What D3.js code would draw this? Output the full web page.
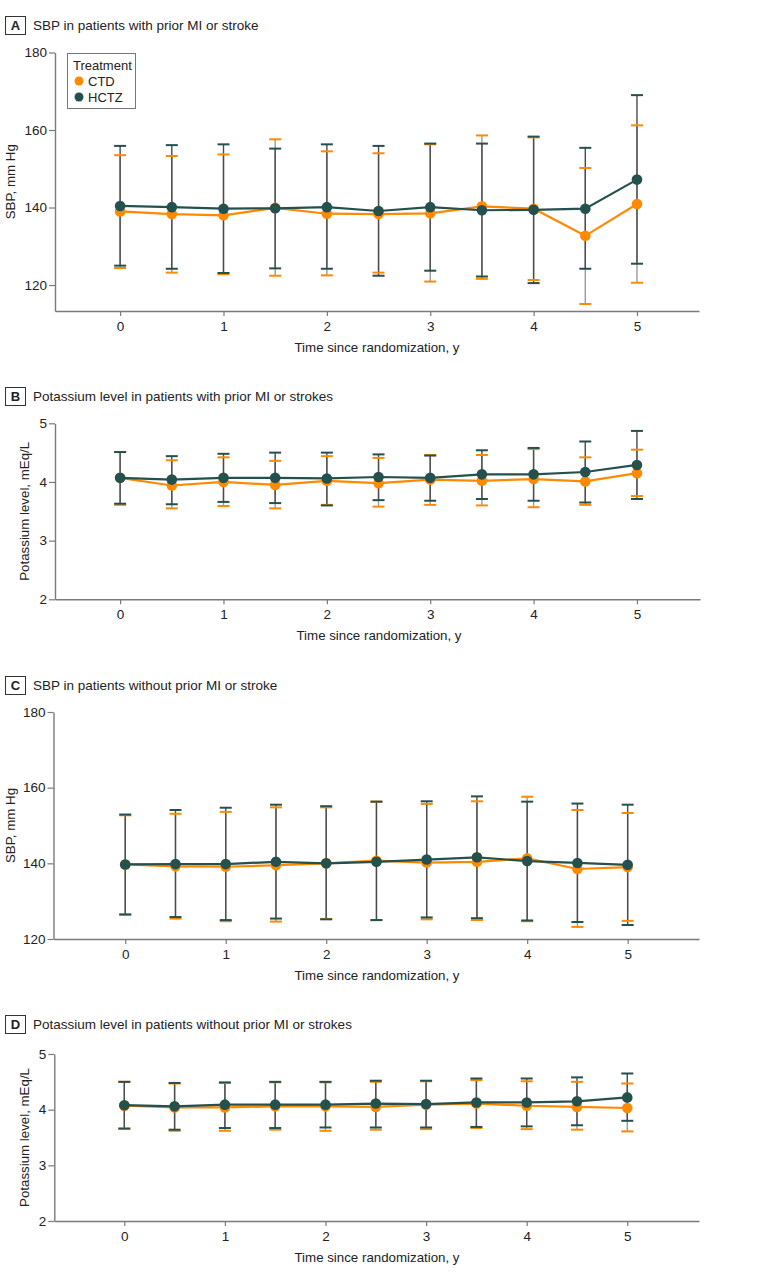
<!DOCTYPE html>
<html>
<head>
<meta charset="utf-8">
<script src="https://cdn.jsdelivr.net/npm/d3@7"></script>
<style>
  html, body { margin: 0; padding: 0; background: #fff; }
  svg text { font-family: "Liberation Sans", Arial, sans-serif; fill: #222; }
</style>
</head>
<body>
<svg id="chart" width="780" height="1281"></svg>
<script>
// ---------- data ----------
const timepoints = [0, 0.5, 1, 1.5, 2, 2.5, 3, 3.5, 4, 4.5, 5];
const xTicks = [0, 1, 2, 3, 4, 5];
const sbpTicks = [120, 140, 160, 180];
const kTicks = [2, 3, 4, 5];
const seriesNames = ["CTD", "HCTZ"];

// Panel A: SBP, prior MI or stroke
const A_ctd_mean  = [139.0, 138.3, 138.0, 139.9, 138.4, 138.3, 138.5, 140.3, 139.7, 132.7, 140.9];
const A_ctd_hi    = [153.5, 153.3, 153.7, 157.6, 154.5, 154.0, 156.3, 158.6, 158.1, 150.2, 161.2];
const A_ctd_lo    = [124.4, 123.2, 122.8, 122.4, 122.5, 123.2, 120.9, 121.6, 121.3, 115.1, 120.6];
const A_hctz_mean = [140.4, 140.1, 139.7, 139.8, 140.1, 139.1, 140.1, 139.3, 139.4, 139.7, 147.2];
const A_hctz_hi   = [155.9, 156.1, 156.3, 155.2, 156.3, 155.9, 156.5, 156.5, 158.3, 155.4, 169.0];
const A_hctz_lo   = [125.0, 124.2, 123.1, 124.3, 124.2, 122.4, 123.7, 122.2, 120.5, 124.2, 125.5];

// Panel B: potassium, prior MI or stroke
const B_ctd_mean  = [4.07, 3.94, 4.00, 3.95, 4.02, 3.98, 4.04, 4.02, 4.05, 4.01, 4.15];
const B_ctd_hi    = [4.51, 4.37, 4.42, 4.36, 4.44, 4.41, 4.46, 4.46, 4.56, 4.42, 4.55];
const B_ctd_lo    = [3.61, 3.55, 3.59, 3.55, 3.61, 3.58, 3.61, 3.60, 3.57, 3.61, 3.76];
const B_hctz_mean = [4.07, 4.04, 4.07, 4.07, 4.06, 4.085, 4.07, 4.13, 4.13, 4.17, 4.29];
const B_hctz_hi   = [4.51, 4.44, 4.48, 4.50, 4.50, 4.47, 4.45, 4.54, 4.58, 4.69, 4.87];
const B_hctz_lo   = [3.63, 3.62, 3.66, 3.64, 3.60, 3.69, 3.68, 3.71, 3.68, 3.65, 3.71];

// Panel C: SBP, without prior MI or stroke
const C_ctd_mean  = [139.7, 139.2, 139.1, 139.5, 140.0, 140.7, 140.2, 140.4, 141.3, 138.5, 139.0];
const C_ctd_hi    = [152.7, 153.1, 153.6, 154.8, 154.8, 156.3, 155.7, 156.4, 157.6, 154.1, 153.3];
const C_ctd_lo    = [126.4, 125.4, 124.7, 124.6, 125.3, 125.0, 125.2, 125.0, 124.7, 123.2, 124.8];
const C_hctz_mean = [139.7, 139.8, 139.8, 140.4, 140.0, 140.4, 141.0, 141.6, 140.6, 140.1, 139.6];
const C_hctz_hi   = [152.9, 154.1, 154.7, 155.5, 155.1, 156.3, 156.4, 157.7, 156.3, 155.8, 155.5];
const C_hctz_lo   = [126.5, 125.8, 125.0, 125.4, 125.2, 125.0, 125.7, 125.5, 124.9, 124.5, 123.7];

// Panel D: potassium, without prior MI or stroke
const D_ctd_mean  = [4.07, 4.04, 4.04, 4.06, 4.06, 4.05, 4.09, 4.11, 4.07, 4.05, 4.03];
const D_ctd_hi    = [4.50, 4.47, 4.48, 4.49, 4.49, 4.50, 4.51, 4.53, 4.51, 4.50, 4.47];
const D_ctd_lo    = [3.66, 3.62, 3.62, 3.64, 3.62, 3.64, 3.65, 3.67, 3.65, 3.64, 3.61];
const D_hctz_mean = [4.08, 4.06, 4.09, 4.09, 4.09, 4.11, 4.10, 4.13, 4.13, 4.15, 4.22];
const D_hctz_hi   = [4.50, 4.48, 4.49, 4.50, 4.50, 4.52, 4.52, 4.56, 4.56, 4.58, 4.65];
const D_hctz_lo   = [3.66, 3.64, 3.67, 3.67, 3.68, 3.68, 3.68, 3.69, 3.70, 3.72, 3.80];

// ---------- styles ----------
const COL = { CTD: "#FF8A00", HCTZ: "#24504E" };
const BARCOL = { CTD: "#9a9a9a", HCTZ: "#4a4a4a" };
const AXCOL = "#7a7a7a";

const svg = d3.select("#chart");

function makeSeries(mean, lo, hi) {
  return timepoints.map((t, i) => ({ t, m: mean[i], lo: lo[i], hi: hi[i] }));
}

function panel(cfg) {
  const g = svg.append("g");
  const x = d3.scaleLinear().domain(cfg.xDomain).range([cfg.left, cfg.right]);
  const y = d3.scaleLinear().domain(cfg.yDomain).range([cfg.bottom, cfg.top]);

  // header
  g.append("rect").attr("x", 5.5).attr("y", cfg.headY + 0.5).attr("width", 20).attr("height", 18)
    .attr("fill", "#fff").attr("stroke", "#333").attr("stroke-width", 1);
  g.append("text").attr("x", 15.5).attr("y", cfg.headY + 14).attr("text-anchor", "middle")
    .attr("font-size", 13).attr("font-weight", "bold").text(cfg.letter);
  g.append("text").attr("x", 33).attr("y", cfg.headY + 14).attr("font-size", 13.5).text(cfg.title);

  // axes
  const yAxis = d3.axisLeft(y).tickValues(cfg.yTicks).tickSize(6).tickSizeOuter(0).tickFormat(d3.format("d"));
  const gy = g.append("g").attr("transform", `translate(${cfg.left},0)`).call(yAxis);
  const xAxis = d3.axisBottom(x).tickValues(xTicks).tickSize(5).tickSizeOuter(0).tickFormat(d3.format("d"));
  const gx = g.append("g").attr("transform", `translate(0,${cfg.bottom})`).call(xAxis);
  [gx, gy].forEach(a => {
    a.select(".domain").attr("stroke", AXCOL).attr("stroke-width", 1.4);
    a.selectAll(".tick line").attr("stroke", AXCOL).attr("stroke-width", 1.2);
    a.selectAll(".tick text").attr("font-size", 13.5).attr("fill", "#222")
      .style("font-family", '"Liberation Sans", Arial, sans-serif');
  });
  gy.selectAll(".tick text").attr("x", -8);
  gx.selectAll(".tick text").attr("y", 10);

  g.append("text").attr("transform", `translate(${cfg.ylabX},${(cfg.top + cfg.bottom) / 2}) rotate(-90)`)
    .attr("text-anchor", "middle").attr("font-size", 13.3).text(cfg.ylabel);
  g.append("text").attr("x", cfg.xlabX).attr("y", cfg.bottom + 41).attr("text-anchor", "middle")
    .attr("font-size", 13.3).text("Time since randomization, y");

  const series = [
    { name: "CTD", data: makeSeries(...cfg.ctd) },
    { name: "HCTZ", data: makeSeries(...cfg.hctz) }
  ];

  // error bars
  series.forEach(s => {
    const eb = g.append("g");
    eb.selectAll("line.v").data(s.data).join("line")
      .attr("x1", d => x(d.t)).attr("x2", d => x(d.t))
      .attr("y1", d => y(d.lo)).attr("y2", d => y(d.hi))
      .attr("stroke", BARCOL[s.name]).attr("stroke-width", 1.4);
  });
  series.forEach(s => {
    const eb = g.append("g");
    ["lo", "hi"].forEach(k => {
      eb.selectAll("line.c" + k).data(s.data).join("line")
        .attr("x1", d => x(d.t) - 6).attr("x2", d => x(d.t) + 6)
        .attr("y1", d => y(d[k])).attr("y2", d => y(d[k]))
        .attr("stroke", COL[s.name]).attr("stroke-width", 2);
    });
  });

  // lines and points
  const line = d3.line().x(d => x(d.t)).y(d => y(d.m));
  series.forEach(s => {
    g.append("path").datum(s.data).attr("d", line).attr("fill", "none")
      .attr("stroke", COL[s.name]).attr("stroke-width", 2.2);
    g.selectAll(null).data(s.data).join("circle")
      .attr("cx", d => x(d.t)).attr("cy", d => y(d.m)).attr("r", 5.3)
      .attr("fill", COL[s.name]);
  });
  return g;
}

panel({
  letter: "A", title: "SBP in patients with prior MI or stroke", headY: 16,
  left: 55, right: 699, top: 52.5, bottom: 311,
  xDomain: [-0.63, 5.6], yDomain: [113.3, 180], yTicks: sbpTicks,
  ylabel: "SBP, mm Hg", ylabX: 15, xlabX: 377,
  ctd: [A_ctd_mean, A_ctd_lo, A_ctd_hi], hctz: [A_hctz_mean, A_hctz_lo, A_hctz_hi]
});
panel({
  letter: "B", title: "Potassium level in patients with prior MI or strokes", headY: 387,
  left: 55, right: 700, top: 423.3, bottom: 599.3,
  xDomain: [-0.63, 5.61], yDomain: [2, 5], yTicks: kTicks,
  ylabel: "Potassium level, mEq/L", ylabX: 29, xlabX: 379,
  ctd: [B_ctd_mean, B_ctd_lo, B_ctd_hi], hctz: [B_hctz_mean, B_hctz_lo, B_hctz_hi]
});
panel({
  letter: "C", title: "SBP in patients without prior MI or stroke", headY: 676,
  left: 53.5, right: 699, top: 712, bottom: 939,
  xDomain: [-0.714, 5.71], yDomain: [120, 180], yTicks: sbpTicks,
  ylabel: "SBP, mm Hg", ylabX: 15, xlabX: 377,
  ctd: [C_ctd_mean, C_ctd_lo, C_ctd_hi], hctz: [C_hctz_mean, C_hctz_lo, C_hctz_hi]
});
panel({
  letter: "D", title: "Potassium level in patients without prior MI or strokes", headY: 1015,
  left: 54.3, right: 699, top: 1054, bottom: 1221,
  xDomain: [-0.696, 5.713], yDomain: [2, 5], yTicks: kTicks,
  ylabel: "Potassium level, mEq/L", ylabX: 29, xlabX: 377,
  ctd: [D_ctd_mean, D_ctd_lo, D_ctd_hi], hctz: [D_hctz_mean, D_hctz_lo, D_hctz_hi]
});

// legend (panel A)
const lg = svg.append("g");
lg.append("rect").attr("x", 67.5).attr("y", 53.5).attr("width", 68).attr("height", 55)
  .attr("fill", "#fff").attr("stroke", "#777").attr("stroke-width", 1);
lg.append("text").attr("x", 73).attr("y", 70).attr("font-size", 13).text("Treatment");
seriesNames.forEach((n, i) => {
  lg.append("circle").attr("cx", 79).attr("cy", 81 + i * 16).attr("r", 4.5).attr("fill", COL[n]);
  lg.append("text").attr("x", 88).attr("y", 86 + i * 16).attr("font-size", 13).text(n);
});
</script>
</body>
</html>
